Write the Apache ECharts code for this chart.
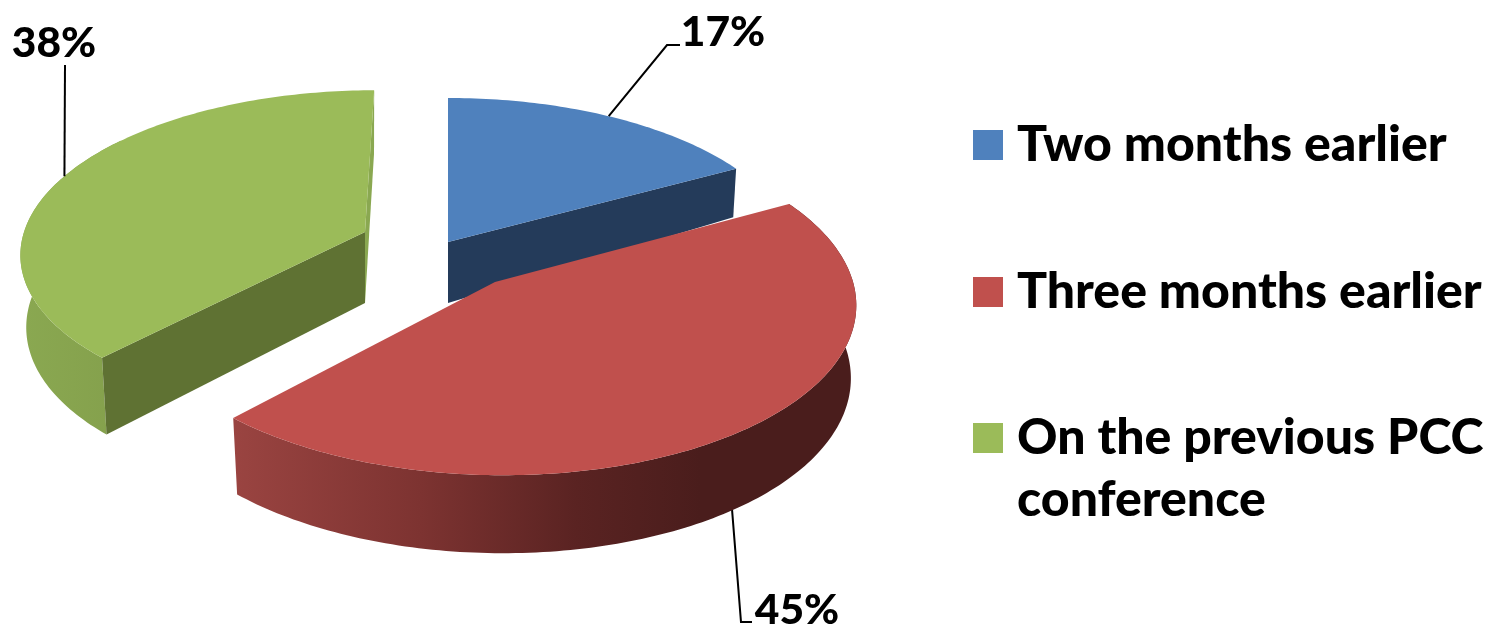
<!DOCTYPE html>
<html><head><meta charset="utf-8">
<style>html,body{margin:0;padding:0;background:#fff}#c{width:1487px;height:626px}</style>
<script src="https://cdn.jsdelivr.net/npm/echarts@6/dist/echarts.min.js"></script>
</head><body><div id="c"></div>
<script>
const categories = ['Two months earlier', 'Three months earlier', 'On the previous PCC conference'];
const percentValues = [17, 45, 38];
const topColors = ['#4F81BD', '#C0504D', '#9BBB59'];
const faceColors = ['#243B5A', '#4a1d1c', '#5F7233'];
const sliceOrder = [0, 2, 1];
const FONT = 'Lato';
// projection of each exploded slice (layout only)
const views = [
  {cx:448, cy:242, rx:347, ry:160.6, k:.115, s:0,    d0:61, d1:26, f:.010, elbow:[[667,45],[680,45]], lab:[723,32]},
  {cx:495, cy:282, rx:358, ry:171, k:.115, s:-.02, d0:72, d1:6,  f:.015, elbow:[[741,622],[752,622]], lab:[797,610]},
  {cx:365, cy:232, rx:341, ry:158,  k:.115, s:.03, d0:71, d1:8,  f:.017, elbow:[[65,65]], lab:[54,43]}
];
const total = percentValues.reduce((a,b)=>a+b,0);
const starts = percentValues.map((_,i)=>percentValues.slice(0,i).reduce((a,b)=>a+b,0)/total*360);

function rimTop(v,deg){const a=deg*Math.PI/180,u=Math.sin(a),c=Math.cos(a),w=1+v.k*c;
  return [v.cx+v.rx*(u+v.s*c)/w, v.cy-v.ry*c/w, c];}
function rimLow(v,deg){const p=rimTop(v,deg);return [p[0]-(p[0]-v.cx)*v.f, p[1]+v.d0-v.d1*p[2]];}
function arc(fn,v,a,b){const r=[];const n=Math.max(2,Math.round(Math.abs(b-a)));for(let i=0;i<=n;i++)r.push(fn(v,a+(b-a)*i/n));return r;}

function renderSlice(idx){
  return function(){
    const v=views[idx],a0=starts[idx],a1=a0+percentValues[idx]/total*360;
    const apex=[v.cx,v.cy],apexLow=[v.cx,v.cy+v.d0];
    const kids=[];
    const poly=(pts,fill,z)=>kids.push({type:'polygon',shape:{points:pts.map(p=>[p[0],p[1]])},style:{fill:fill,stroke:null},z2:z,silent:true});
    if(idx===0){
      poly([apex,rimTop(v,a1),rimLow(v,a1),apexLow],faceColors[0],1);
    }
    if(idx===1){
      poly(arc(rimTop,v,a0,a1).concat(arc(rimLow,v,a0,a1).reverse()),
        new echarts.graphic.LinearGradient(0,0,1,0,[
          {offset:0,color:'#9a4441'},{offset:.3,color:'#7d3331'},{offset:.55,color:'#5a2322'},{offset:.75,color:'#4a1d1c'},{offset:1,color:'#4a1d1c'}]),1);
    }
    if(idx===2){
      poly(arc(rimTop,v,a0,a0+85).concat(arc(rimLow,v,a0,a0+85).reverse()),
        new echarts.graphic.LinearGradient(0,0,1,0,[{offset:0,color:'#8aa851'},{offset:1,color:'#84a04c'}]),1);
      poly([apex,rimTop(v,a0),rimLow(v,a0),apexLow],faceColors[2],2);
      poly([apex,rimTop(v,a1),rimLow(v,a1),apexLow],'#8aa851',1);
    }
    poly([apex].concat(arc(rimTop,v,a0,a1)),topColors[idx],3);
    // leader + label
    const mid=(a0+a1)/2,tp=rimTop(v,mid),lw=rimLow(v,mid);
    const start=idx===1?[lw[0]-7,lw[1]]:[tp[0],tp[1]];
    kids.push({type:'polyline',shape:{points:[start].concat(v.elbow)},style:{stroke:'#000',lineWidth:2,fill:null},z2:idx===1?0:5,silent:true});
    kids.push({type:'text',style:{x:v.lab[0],y:v.lab[1],text:percentValues[idx]+'%',fill:'#000',font:'900 42.5px '+FONT,align:'center',verticalAlign:'middle'},z2:6,silent:true});
    return {type:'group',children:kids};
  };
}

const LINE = 62;
const legendTops=[114,261,345];
const option={
  animation:false,
  backgroundColor:'#fff',
  legend:categories.map((c,i)=>({
    data:[c],left:973,top:legendTops[i],orient:'vertical',icon:'rect',itemWidth:30,itemHeight:30,padding:0,
    selectedMode:false,
    formatter:n=>i===2?'\n'+n.replace('PCC ','PCC\n'):n,
    textStyle:{fontFamily:FONT,fontWeight:900,fontSize:50,color:'#000',lineHeight:LINE,padding:[0,0,0,9]}
  })),
  series:sliceOrder.map(i=>({
    type:'custom',name:categories[i],coordinateSystem:'none',
    itemStyle:{color:topColors[i]},
    data:[[percentValues[i]]],
    renderItem:renderSlice(i)
  }))
};
echarts.init(document.getElementById('c'),null,{renderer:'canvas'}).setOption(option);
</script></body></html>
